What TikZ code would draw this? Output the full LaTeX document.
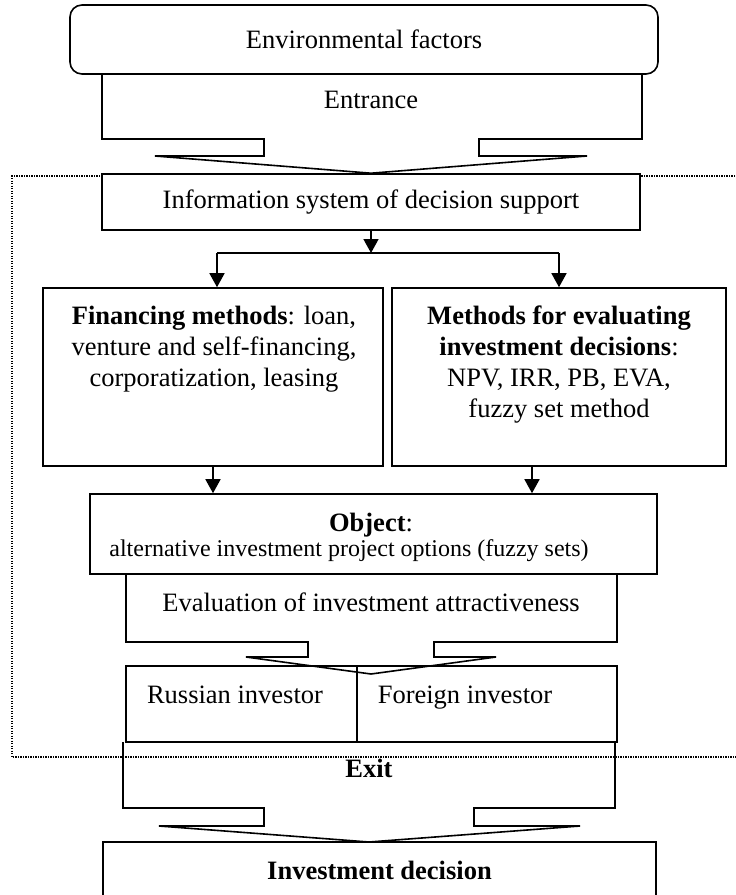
\documentclass[tikz,border=0pt]{standalone}
\usepackage{fontspec}
\setmainfont{Liberation Serif}
\usetikzlibrary{arrows.meta}

\begin{document}
\begin{tikzpicture}[x=1pt, y=-1pt,
	box/.style={draw, line width=1.6pt, inner sep=0pt},
	txt/.style={inner sep=0pt, align=center},
	outl/.style={line width=1.6pt},
	arr/.style={line width=1.6pt, -{Triangle[width=15pt,length=14pt]}},
	font={\fontsize{26.5}{31}\selectfont}]
	\path[use as bounding box, clip] (0,0) rectangle (736,895);

	%frame
	\draw[line width=1.3pt, dash pattern=on 1.2pt off 1.3pt] (745,176) -- (12,176) -- (12,757) -- (745,757);

	%boxes
	\node[box, rounded corners=12pt, minimum width=588pt, minimum height=69pt] (env) at (364,39.5) {Environmental factors};
	\node[txt] (entrance) at (371,100) {Entrance};
	\node[box, fill=white, minimum width=538pt, minimum height=56pt] (info) at (371,202) {Information system of decision support};

	\node[box, minimum width=340pt, minimum height=178pt] (fin) at (213,377) {};
	\node[txt, anchor=north] (fintxt) at (214,306) {\textbf{Financing methods}: loan,\\venture and self-financing,\\corporatization, leasing};
	\node[box, minimum width=334pt, minimum height=178pt] (meth) at (559,377) {};
	\node[txt, anchor=north] (methtxt) at (559,306) {\textbf{Methods for evaluating}\\\textbf{investment decisions}:\\NPV, IRR, PB, EVA,\\fuzzy set method};

	\node[box, minimum width=567pt, minimum height=80pt] (obj) at (373.5,534) {};
	\node[txt, anchor=base] (objhead) at (371,531) {\textbf{Object}:};
	\node[txt, anchor=base, font={\fontsize{24}{28}\selectfont}] (objtxt) at (349,556) {alternative investment project options (fuzzy sets)};
	\node[txt] (eval) at (371,602) {Evaluation of investment attractiveness};

	\node[box, minimum width=231pt, minimum height=76pt] (rus) at (241.5,704) {};
	\node[txt, anchor=base] (rustxt) at (235,703) {Russian investor};
	\node[box, minimum width=260pt, minimum height=76pt] (foreign) at (487,704) {};
	\node[txt, anchor=base] (foreigntxt) at (465,703) {Foreign investor};

	\node[txt, anchor=base] (exit) at (369,777) {\textbf{Exit}};
	\node[box, minimum width=553pt, minimum height=56pt] (dec) at (379.5,870) {\textbf{Investment decision}};

	%tab arrows
	\draw[outl] (102,74) |- (264,139) -- (264,156) -- (155,156) -- (info.north) -- (587,156) -- (479,156) -- (479,139) -| (642,74);
	\draw[outl] (126,574) |- (308,642) -- (308,657) -- (246,657) -- (371,674) -- (496,657) -- (434,657) -- (434,642) -| (617,574);
	\draw[outl] (123,742) |- (264,808) -- (264,826) -- (159,826) -- (369,842) -- (580,826) -- (474,826) -- (474,808) -| (615,742);

	%arrows
	\coordinate (split) at (371,253);
	\draw[arr] (info.south) -- (split);
	\draw[outl] ([xshift=4pt]fin.north |- split) -- (meth.north |- split);
	\draw[arr] ([xshift=4pt]fin.north |- split) -- ([xshift=4pt]fin.north);
	\draw[arr] (meth.north |- split) -- (meth.north);
	\draw[arr] (fin.south) -- (fin.south |- obj.north);
	\draw[arr] ([xshift=-27pt]meth.south) -- ([xshift=-27pt]meth.south |- obj.north);
\end{tikzpicture}
\end{document}
